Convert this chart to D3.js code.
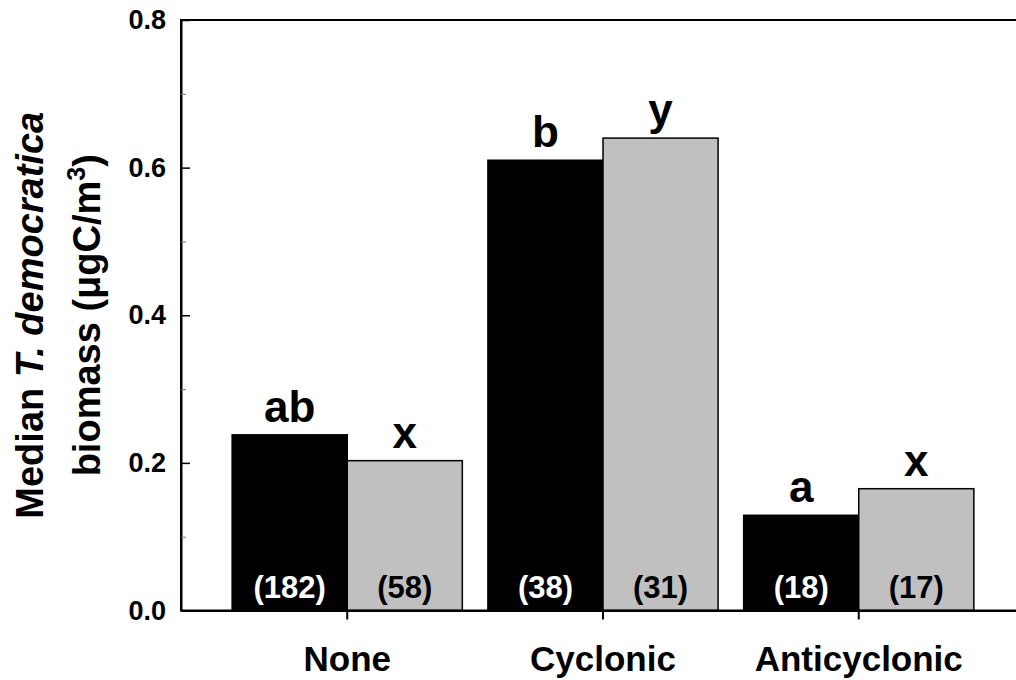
<!DOCTYPE html>
<html>
<head>
<meta charset="utf-8">
<script src="https://cdn.jsdelivr.net/npm/d3@7"></script>
<style>
  html, body { margin: 0; padding: 0; background: #fff; }
  svg { display: block; font-family: "Liberation Sans", Arial, Helvetica, sans-serif; font-weight: bold; }
</style>
</head>
<body>
<svg id="chart" width="1016" height="680"></svg>
<script>
// Eddy type categories and the two sampling series
const categories = ["None", "Cyclonic", "Anticyclonic"];
const seriesKeys = ["series1", "series2"];
const series1Values = [0.238, 0.610, 0.129];
const series2Values = [0.203, 0.640, 0.165];
const series1Counts = [182, 38, 18];
const series2Counts = [58, 31, 17];
const series1Letters = ["ab", "b", "a"];
const series2Letters = ["x", "y", "x"];
const majorTicks = [0, 0.2, 0.4, 0.6, 0.8];
const minorTicks = [0.1, 0.3, 0.5, 0.7];

const rows = categories.map((c, i) => ({
  category: c,
  bars: [
    { key: "series1", value: series1Values[i], n: series1Counts[i], letter: series1Letters[i] },
    { key: "series2", value: series2Values[i], n: series2Counts[i], letter: series2Letters[i] }
  ]
}));

const svg = d3.select("#chart");
const plot = { left: 181, right: 1025, top: 20, bottom: 610.5 };

const x0 = d3.scaleBand()
  .domain(categories)
  .range([plot.left, plot.right])
  .paddingInner(0.1)
  .paddingOuter(0.2);

const x1 = d3.scaleBand()
  .domain(seriesKeys)
  .range([0, x0.bandwidth()]);

const y = d3.scaleLinear()
  .domain([0, 0.8])
  .range([plot.bottom, plot.top]);

const fill = { series1: "#000000", series2: "#c0c0c0" };
const countColor = { series1: "#ffffff", series2: "#000000" };

// Bars
const groups = svg.append("g").selectAll("g")
  .data(rows)
  .join("g")
  .attr("transform", d => `translate(${x0(d.category)},0)`);

groups.selectAll("rect")
  .data(d => d.bars)
  .join("rect")
  .attr("x", d => x1(d.key))
  .attr("y", d => y(d.value))
  .attr("width", x1.bandwidth())
  .attr("height", d => y(0) - y(d.value))
  .attr("fill", d => fill[d.key])
  .attr("stroke", "#000")
  .attr("stroke-width", 1.5);

// Significance letters above bars
groups.selectAll("text.letter")
  .data(d => d.bars)
  .join("text")
  .attr("class", "letter")
  .attr("x", d => x1(d.key) + x1.bandwidth() / 2)
  .attr("y", d => y(d.value) - 13)
  .attr("text-anchor", "middle")
  .attr("font-size", 44)
  .attr("fill", "#000")
  .text(d => d.letter);

// Sample sizes inside bars
groups.selectAll("text.count")
  .data(d => d.bars)
  .join("text")
  .attr("class", "count")
  .attr("x", d => x1(d.key) + x1.bandwidth() / 2)
  .attr("y", y(0) - 13)
  .attr("text-anchor", "middle")
  .attr("font-size", 31)
  .attr("fill", d => countColor[d.key])
  .text(d => `(${d.n})`);

// Frame
svg.append("rect")
  .attr("x", plot.left)
  .attr("y", plot.top)
  .attr("width", plot.right - plot.left)
  .attr("height", plot.bottom - plot.top)
  .attr("fill", "none")
  .attr("stroke", "#000")
  .attr("stroke-width", 2);

// Y axis: major ticks pointing inward
const yAxis = svg.append("g")
  .attr("transform", `translate(${plot.left},0)`)
  .call(d3.axisLeft(y)
    .tickValues(majorTicks)
    .tickFormat(d3.format(".1f"))
    .tickSizeInner(-9)
    .tickSizeOuter(0)
    .tickPadding(15));
yAxis.select(".domain").attr("stroke-width", 2);
yAxis.selectAll(".tick line").attr("stroke-width", 1.5);
yAxis.selectAll(".tick text")
  .attr("font-size", 27)
  .attr("font-family", "Liberation Sans, Arial, sans-serif")
  .attr("font-weight", "bold")
  .attr("fill", "#000");

// Y axis: minor ticks
const yMinor = svg.append("g")
  .attr("transform", `translate(${plot.left},0)`)
  .call(d3.axisLeft(y)
    .tickValues(minorTicks)
    .tickFormat("")
    .tickSizeInner(-5)
    .tickSizeOuter(0));
yMinor.select(".domain").remove();
yMinor.selectAll(".tick line").attr("stroke", "#777").attr("stroke-width", 1);

// X axis
const xAxis = svg.append("g")
  .attr("transform", `translate(0,${plot.bottom})`)
  .call(d3.axisBottom(x0)
    .tickSizeInner(9)
    .tickSizeOuter(0)
    .tickPadding(27));
xAxis.select(".domain").attr("stroke-width", 2);
xAxis.selectAll(".tick line").attr("stroke-width", 2);
xAxis.selectAll(".tick text")
  .attr("font-size", 35)
  .attr("font-family", "Liberation Sans, Arial, sans-serif")
  .attr("font-weight", "bold")
  .attr("fill", "#000");

// Y axis title (two lines, rotated)
const title = svg.append("g")
  .attr("transform", `translate(0,${(plot.top + plot.bottom) / 2}) rotate(-90)`)
  .attr("font-size", 38)
  .attr("fill", "#000");

const line1 = title.append("text")
  .attr("x", 0).attr("y", 43)
  .attr("text-anchor", "middle");
line1.append("tspan").text("Median ");
line1.append("tspan").attr("font-style", "italic").text("T. democratica");

const line2 = title.append("text")
  .attr("x", 0).attr("y", 100)
  .attr("text-anchor", "middle");
line2.append("tspan").text("biomass (\u03BCgC/m");
line2.append("tspan").attr("font-size", 25).attr("dy", -15).text("3");
line2.append("tspan").attr("dy", 15).text(")");
</script>
</body>
</html>
